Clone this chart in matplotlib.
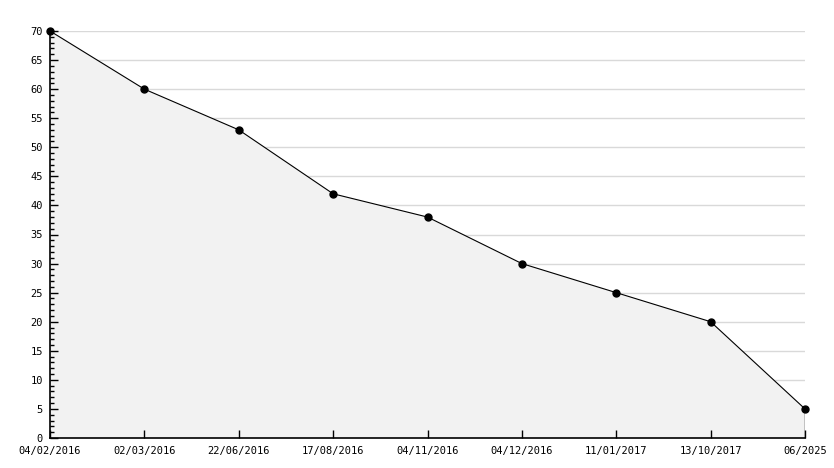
import matplotlib
matplotlib.use('Agg')
import matplotlib.pyplot as plt
from matplotlib.ticker import MultipleLocator

dates = ['04/02/2016', '02/03/2016', '22/06/2016', '17/08/2016', '04/11/2016',
         '04/12/2016', '11/01/2017', '13/10/2017', '06/2025']
values = [70, 60, 53, 42, 38, 30, 25, 20, 5]

plt.rcParams['font.family'] = 'DejaVu Sans Mono'

fig = plt.figure(figsize=(8.34, 4.68), dpi=100)
ax = fig.add_axes([50/834, 30/468, 755/834, 407/468])

x = list(range(len(dates)))

# grid lines sit behind the filled area
ax.hlines(range(5, 71, 5), x[0], x[-1], color='#d9d9d9', lw=1, zorder=0)
ax.fill_between(x, values, 0, facecolor='#f2f2f2', edgecolor='none', alpha=1, zorder=1)
ax.plot([x[-1], x[-1]], [0, values[-1]], color='black', lw=1, zorder=2)
ax.plot(x, values, color='black', lw=0.8, marker='o', ms=5, mfc='black', mec='black',
        zorder=3, clip_on=False)

ax.set_xlim(0, len(dates) - 1)
ax.set_ylim(0, 70)
ax.set_xticks(x)
ax.set_xticklabels(dates)
ax.yaxis.set_major_locator(MultipleLocator(5))
ax.yaxis.set_minor_locator(MultipleLocator(1))
ax.set_axisbelow(False)

for s in ['top', 'right']:
    ax.spines[s].set_visible(False)
ax.spines['left'].set_linewidth(1.2)
ax.spines['bottom'].set_linewidth(1.2)

ax.tick_params(axis='y', which='major', direction='in', length=6, width=1, labelsize=7.5, pad=5)
ax.tick_params(axis='y', which='minor', direction='in', length=3, width=1)
ax.tick_params(axis='x', which='major', direction='in', length=6, width=1, labelsize=7.5, pad=6)

fig.savefig('out.png', dpi=100)
